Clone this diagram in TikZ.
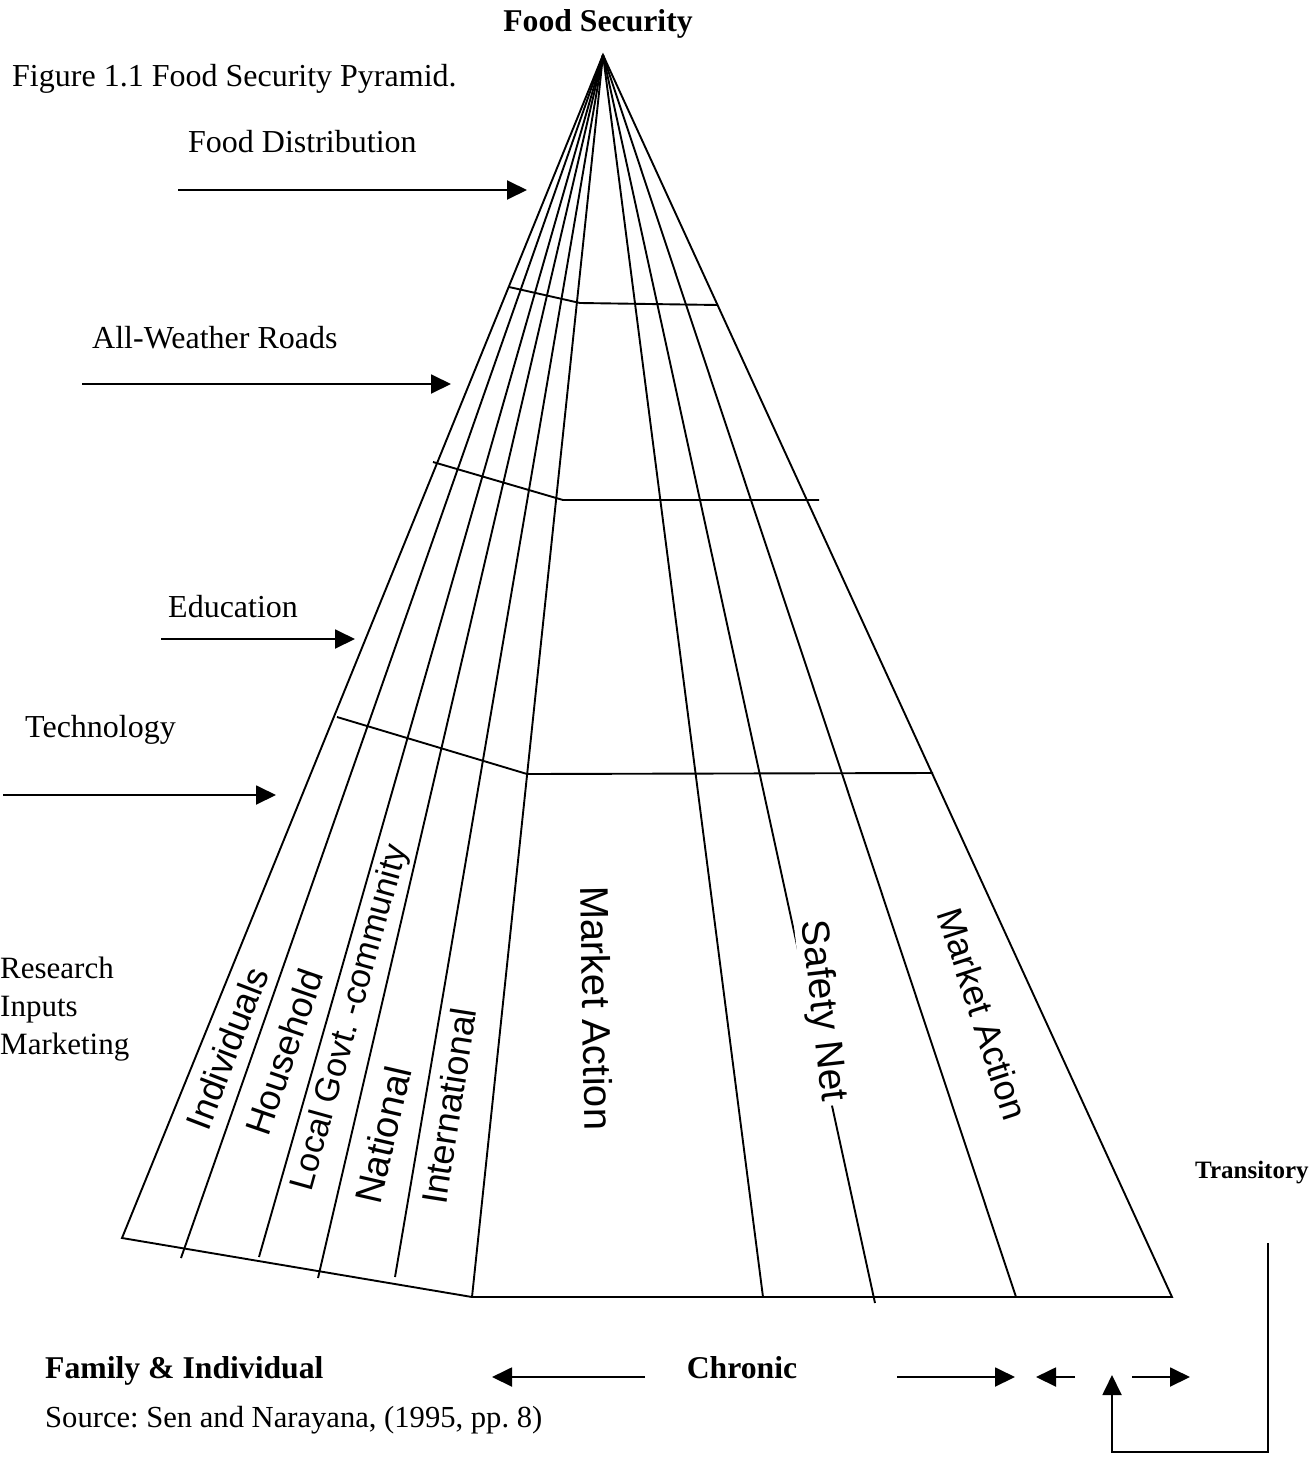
\documentclass[tikz,border=0pt]{standalone}
\usepackage{fontspec}
\setmainfont{Liberation Serif}
\setsansfont{Liberation Sans}
\usetikzlibrary{arrows.meta}
\frenchspacing

\begin{document}
\begin{tikzpicture}[
    x=1pt, y=-1pt,
    >={Triangle[length=20pt,width=19pt]},
    ray/.style={line width=1.9pt},
    feed/.style={->, line width=1.9pt},
    lbl/.style={inner sep=0pt, font=\fontsize{32}{36}\selectfont},
    side/.style={inner sep=0pt, font=\fontsize{31}{36}\selectfont},
    toptext/.style={inner sep=0pt, font=\fontsize{31.7}{36}\selectfont\bfseries},
    slot/.style={inner sep=0pt, font=\sffamily\fontsize{36}{40}\selectfont}
]
    \useasboundingbox (0,0) rectangle (1313,1461);

    \coordinate (apex) at (603,55);
    \coordinate (lb) at (122,1238);
    \coordinate (b1) at (181,1258);
    \coordinate (b2) at (259,1257);
    \coordinate (b3) at (318,1278);
    \coordinate (b4) at (395,1277);
    \coordinate (bj) at (472,1297);
    \coordinate (r1) at (763,1297);
    \coordinate (r2) at (875,1303);
    \coordinate (r3) at (1016,1297);
    \coordinate (rb) at (1172,1297);

    \draw[ray] (lb) -- (bj) -- (rb) -- (apex) -- cycle;
    \foreach \p in {b1,b2,b3,b4,bj,r1,r2,r3}
        \draw[ray] (apex) -- (\p);

    \draw[ray] (509,287) -- (580,303) -- (718,305);
    \draw[ray] (433,462) -- (563,500) -- (819,500);
    \draw[ray] (337,717) -- (527,774) -- (933,773);

    \node[toptext, anchor=base] (fs) at (598,32) {Food Security};
    \node[lbl, anchor=base west] (fig) at (12,87) {Figure 1.1 Food Security Pyramid.};

    \node[lbl, anchor=base west] (fd) at (188,153) {Food Distribution};
    \node[lbl, anchor=base west] (awr) at (92,348) {All-Weather Roads};
    \node[lbl, anchor=base west] (edu) at (168,617) {Education};
    \node[lbl, anchor=base west] (tech) at (25,737) {Technology};
    \node[side, anchor=base west] (res) at (0,978) {Research};
    \node[side, anchor=base west] (inp) at (0,1016) {Inputs};
    \node[side, anchor=base west] (mkt) at (0,1054) {Marketing};

    \coordinate (fd0) at (178,190);  \coordinate (fd1) at (527,190);
    \coordinate (awr0) at (82,384);  \coordinate (awr1) at (451,384);
    \coordinate (edu0) at (161,639); \coordinate (edu1) at (355,639);
    \coordinate (tech0) at (3,795);  \coordinate (tech1) at (276,795);
    \draw[feed] (fd0) -- (fd1);
    \draw[feed] (awr0) -- (awr1);
    \draw[feed] (edu0) -- (edu1);
    \draw[feed] (tech0) -- (tech1);

    \node[slot, rotate=69] (ind) at (227,1048) {Individuals};
    \node[slot, rotate=71] (hh) at (284,1052) {Household};
    \node[slot, rotate=74.5, font=\sffamily\fontsize{34}{38}\selectfont] (lgc) at (351,1018) {Local Govt. -community};
    \node[slot, rotate=77, font=\sffamily\fontsize{38}{40}\selectfont] (nat) at (383,1135) {National};
    \node[slot, rotate=81] (intl) at (449,1106) {International};
    \node[slot, rotate=-89, font=\sffamily\fontsize{40}{44}\selectfont] (ma1) at (597,1008) {Market Action};
    \node[slot, rotate=-83.5, fill=white, inner xsep=4pt, font=\sffamily\fontsize{39}{42}\selectfont] (sn) at (822,1011) {Safety Net};
    \node[slot, rotate=-72] (ma2) at (983,1014) {Market Action};

    \node[toptext, anchor=base west] (fam) at (45,1378) {Family \& Individual};
    \node[toptext, anchor=base] (chr) at (742,1378) {Chronic};
    \node[toptext, anchor=base west, font=\fontsize{25}{30}\selectfont\bfseries] (tra) at (1195,1178) {Transitory};
    \node[side, anchor=base west, font=\fontsize{30.6}{36}\selectfont] (src) at (45,1427) {Source: Sen and Narayana, (1995, pp. 8)};

    \coordinate (ch0) at (645,1377);  \coordinate (ch1) at (492,1377);
    \coordinate (ch2) at (897,1377);  \coordinate (ch3) at (1015,1377);
    \coordinate (tr0) at (1075,1377); \coordinate (tr1) at (1036,1377);
    \coordinate (tr2) at (1132,1377); \coordinate (tr3) at (1190,1377);
    \draw[feed] (ch0) -- (ch1);
    \draw[feed] (ch2) -- (ch3);
    \draw[feed] (tr0) -- (tr1);
    \draw[feed] (tr2) -- (tr3);

    \coordinate (trs) at (1268,1243);
    \coordinate (trc) at (1112,1452);
    \coordinate (trup) at (1112,1375);
    \draw[feed] (trs) |- (trc) -- (trup);
\end{tikzpicture}
\end{document}
